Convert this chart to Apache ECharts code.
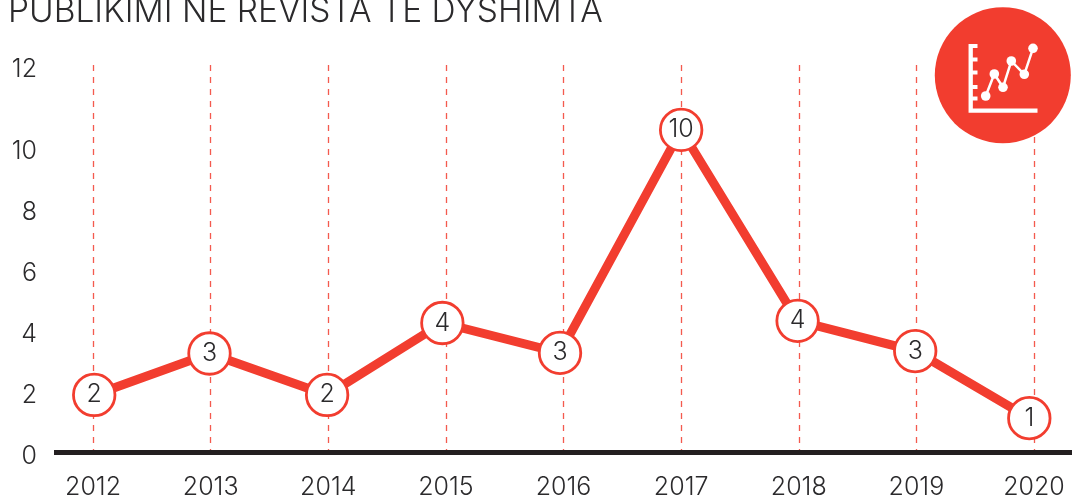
<!DOCTYPE html>
<html><head><meta charset="utf-8">
<style>html,body{margin:0;padding:0;background:#fff}#c{width:1074px;height:500px}</style>
<script src="https://cdn.jsdelivr.net/npm/echarts@6/dist/echarts.min.js"></script>
</head><body><div id="c"></div>
<script>
const titleText = 'PUBLIKIMI NE REVISTA TE DYSHIMTA';
const years = [2012,2013,2014,2015,2016,2017,2018,2019,2020];
const yTicks = [0,2,4,6,8,10];
const topTickPosition = 12.69;
const topTickLabel = '12';
const pointLabels = ['2','3','2','4','3','10','4','3','1'];
const pointYears = [2012.01,2012.99,2013.99,2014.97,2015.97,2017,2017.99,2018.99,2019.96];
const pointHeights = [1.87,3.23,1.87,4.23,3.25,10.56,4.30,3.31,1.11];
const RED = '#f23d2f', INK = '#2b2a2c', AXIS = '#231f20';
const FONT = 'Inter';

const chart = echarts.init(document.getElementById('c'), null, {renderer:'canvas'});
const iconLine = [[985.7,96],[994.3,74],[1003,87.3],[1011.3,61],[1024.3,74.3],[1033,48.3]];
chart.setOption({
  animation:false,
  backgroundColor:'#fff',
  title:{text:titleText,left:3,top:-10,textStyle:{fontFamily:FONT,fontSize:33.5,fontWeight:300,color:INK}},
  grid:{left:54,right:2,top:65,bottom:48,containLabel:false},
  xAxis:{
    type:'value',min:2011.668,max:2020.323,
    axisLine:{onZero:false,lineStyle:{color:AXIS,width:5,cap:'butt'}},
    axisTick:{show:true,customValues:years,length:0},
    axisLabel:{customValues:years,formatter:v=>String(v),fontFamily:FONT,fontSize:25,fontWeight:300,color:INK,margin:23,hideOverlap:false},
    splitLine:{show:true,lineStyle:{color:RED,type:[6,6],width:1.3,opacity:0.85}}
  },
  yAxis:{
    type:'value',min:0,max:topTickPosition,
    axisLine:{show:false},axisTick:{show:false},splitLine:{show:false},
    axisLabel:{customValues:yTicks.concat([topTickPosition]),
      formatter:v=>v===topTickPosition?topTickLabel:String(v),
      fontFamily:FONT,fontSize:25,fontWeight:300,color:INK,margin:17,align:'right',
      verticalAlign:'top',lineHeight:8}
  },
  graphic:[
    {type:'circle',z:50,shape:{cx:1002.8,cy:75.3,r:68},style:{fill:RED}},
    {type:'polyline',z:51,shape:{points:iconLine},style:{stroke:'#fff',lineWidth:2.5,fill:'none'}},
    ...iconLine.map(p=>({type:'circle',z:52,shape:{cx:p[0],cy:p[1],r:4.8},style:{fill:'#fff'}})),
    {type:'polyline',z:51,shape:{points:[[970.7,44],[970.7,110.7],[1037.5,110.7]]},style:{stroke:'#fff',lineWidth:4.3,fill:'none',lineJoin:'miter'}},
    ...[46,59.5,72.5,87,98.5].map(y=>({type:'rect',z:51,shape:{x:971,y:y-2,width:6.5,height:4},style:{fill:'#fff'}}))
  ],
  series:[{
    type:'line',
    data:pointYears.map((x,i)=>[x,pointHeights[i]]),
    lineStyle:{color:RED,width:9,join:'miter'},
    symbol:'circle',symbolSize:41.5,showAllSymbol:true,
    itemStyle:{color:'#fff',borderColor:RED,borderWidth:2.8,opacity:1},
    label:{show:true,position:'inside',formatter:p=>pointLabels[p.dataIndex],
      fontFamily:FONT,fontSize:25,fontWeight:300,color:INK},
    emphasis:{disabled:true},z:5
  }]
});
</script></body></html>
